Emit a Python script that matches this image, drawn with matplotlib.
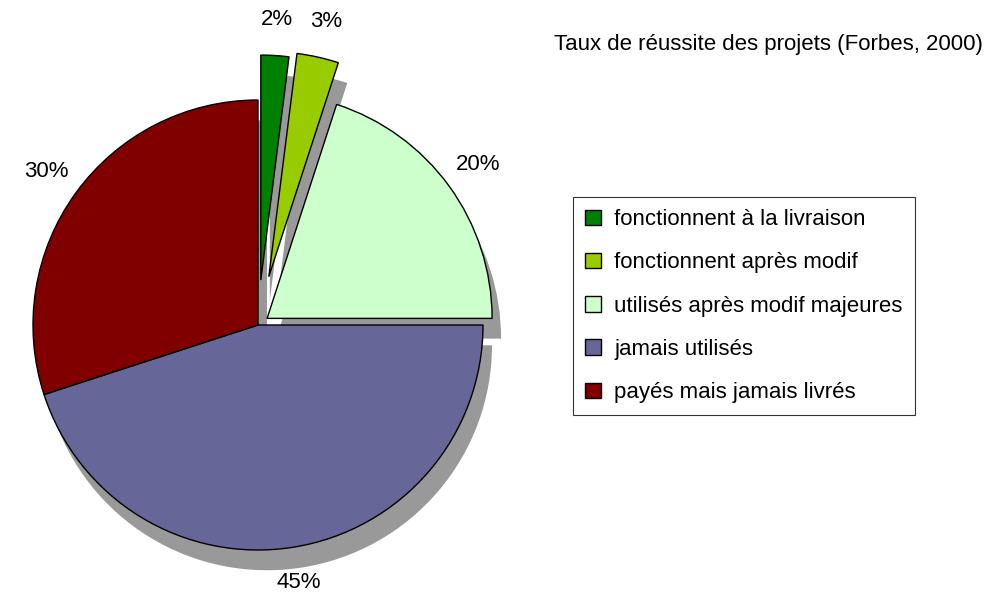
import matplotlib.pyplot as plt

labels = ["fonctionnent à la livraison", "fonctionnent après modif",
          "utilisés après modif majeures", "jamais utilisés", "payés mais jamais livrés"]
values = [2, 3, 20, 45, 30]
colors = ["#008000", "#99cc00", "#ccffcc", "#666699", "#800000"]
explode = [0.2, 0.22, 0.05, 0, 0]

plt.rcParams['font.family'] = ['Liberation Sans', 'DejaVu Sans']

fig = plt.figure(figsize=(9.85, 5.99), dpi=100)
ax = fig.add_axes([(258 - 270) / 985, 4 / 599, 540 / 985, 540 / 599])

# shadow
ax.pie(values, explode=explode, startangle=90, counterclock=False,
       colors=["#999999"] * 5, center=(0.04, -0.09), radius=1.0)
wedges, texts, autotexts = ax.pie(
    values, explode=explode, startangle=90, counterclock=False, colors=colors,
    autopct='%d%%', pctdistance=1.16, radius=1.0,
    wedgeprops=dict(edgecolor='black', linewidth=1),
    textprops=dict(fontsize=16))
ax.set_xlim(-1.2, 1.2)
ax.set_ylim(-1.2, 1.2)
ax.set_aspect('equal')
ax.axis('off')

fig.text(0.998, 0.925, "Taux de réussite des projets (Forbes, 2000)",
         ha='right', va='center', fontsize=16)
leg = fig.legend(wedges, labels, loc='upper left', bbox_to_anchor=(573 / 985, 1 - 197 / 599),
                 fontsize=16, frameon=True, fancybox=False, edgecolor='black',
                 handlelength=0.7, handleheight=0.7, labelspacing=1.0,
                 borderpad=0.55, handletextpad=0.6, borderaxespad=0)
leg.get_frame().set_linewidth(0.8)

fig.savefig("out.png", dpi=100)
